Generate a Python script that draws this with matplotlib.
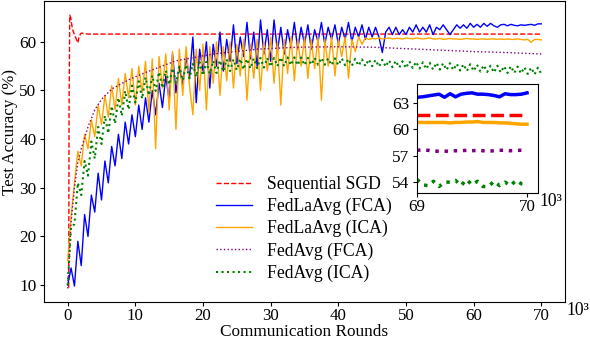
import numpy as np
import matplotlib
matplotlib.use("Agg")
import matplotlib.pyplot as plt

plt.rcParams["font.family"] = ["Liberation Serif", "DejaVu Serif"]
plt.rcParams["font.size"] = 12.7
plt.rcParams["xtick.labelsize"] = 12.2
plt.rcParams["ytick.labelsize"] = 12.4
plt.rcParams["xtick.major.size"] = 3
plt.rcParams["ytick.major.size"] = 3
plt.rcParams["xtick.major.pad"] = 1.5
plt.rcParams["ytick.major.pad"] = 2.5

# rounds in thousands
rounds = np.arange(0, 70.01, 0.5)

fedla_fca = [10.0, 13.5, 9.8, 19.0, 14.0, 24.5, 20.0, 28.5, 25.0, 33.0,
             27.5, 35.5, 31.0, 38.5, 34.5, 41.0, 36.0, 43.5, 39.0, 45.0,
             40.5, 47.0, 42.0, 48.5, 43.5, 50.0, 45.0, 51.5, 46.5, 53.0,
             48.0, 57.5, 49.5, 55.0, 51.0, 57.0, 52.5, 61.0, 47.5, 58.5,
             54.0, 60.0, 50.5, 59.5, 55.0, 62.0, 54.0, 60.5, 56.0, 63.5,
             55.5, 61.0, 57.0, 64.0, 56.5, 62.0, 55.0, 64.5, 57.5, 62.5,
             56.0, 64.5, 58.0, 63.0, 57.5, 62.5, 59.0, 64.0, 58.5, 63.0,
             59.5, 63.5, 58.5, 62.5, 60.0, 64.0, 59.5, 63.0, 60.5, 63.5,
             59.5, 63.0, 60.5, 64.0, 60.0, 63.0, 61.0, 63.5, 60.5, 63.0,
             61.0, 63.0, 61.0, 57.8, 62.0, 63.0, 61.5, 63.0, 61.5, 62.5,
             61.5, 63.0, 62.0, 63.5, 62.0, 63.0, 62.0, 63.5, 61.5, 63.0,
             62.5, 63.5, 62.5, 61.5, 62.5, 63.5, 62.8, 63.5, 62.8, 63.8,
             63.0, 63.6, 63.0, 63.8, 63.2, 63.8, 63.3, 63.0, 63.5, 63.6,
             63.3, 63.6, 63.4, 63.3, 63.5, 63.4, 63.5, 63.6, 63.4, 63.7,
             63.7]

fedla_ica = [15.0, 24.0, 31.0, 37.5, 34.5, 41.0, 38.0, 44.0, 40.5, 47.0,
             43.0, 49.0, 44.5, 51.0, 46.0, 52.5, 47.0, 53.5, 48.5, 54.5,
             47.0, 55.0, 49.5, 56.0, 45.5, 56.5, 38.0, 57.0, 50.5, 57.5,
             46.0, 58.0, 42.0, 58.5, 49.0, 59.0, 51.0, 45.0, 58.5, 50.0,
             59.5, 46.0, 59.0, 51.5, 60.0, 49.0, 59.0, 52.0, 60.0, 50.5,
             59.5, 53.0, 60.5, 48.0, 59.5, 52.5, 60.5, 50.0, 60.0, 54.0,
             61.0, 51.5, 60.0, 47.0, 60.5, 53.5, 61.0, 52.0, 60.5, 55.0,
             61.0, 52.5, 60.5, 54.5, 61.0, 48.0, 60.5, 55.0, 61.0, 53.0,
             60.5, 57.0, 61.0, 52.5, 60.5, 58.0, 61.0, 59.5, 60.8, 60.5,
             60.7, 60.6, 60.8, 60.6, 60.7, 60.8, 60.6, 60.7, 60.7, 60.6,
             60.8, 60.7, 60.6, 60.8, 60.7, 60.6, 60.7, 60.8, 60.6, 60.6,
             60.7, 60.5, 60.6, 60.7, 60.6, 60.6, 60.5, 60.6, 60.7, 60.6,
             60.6, 60.5, 60.6, 60.6, 60.5, 60.6, 60.6, 60.5, 60.6, 60.5,
             60.6, 60.5, 60.5, 60.6, 60.5, 60.4, 60.5, 59.9, 60.5, 60.5,
             60.4]

fedavg_ica = [10.0, 22.0, 22.5, 31.0, 28.5, 35.5, 32.5, 39.5, 36.0, 42.5,
              39.0, 44.8, 41.2, 46.8, 43.2, 48.5, 44.8, 49.9, 46.1, 51.0,
              47.5, 51.9, 48.3, 52.7, 49.0, 53.1, 49.9, 53.8, 50.5, 54.1,
              51.2, 54.6, 51.6, 54.9, 52.1, 55.3, 52.5, 55.5, 52.8, 55.8,
              53.1, 55.9, 53.4, 56.1, 53.6, 56.2, 53.9, 56.4, 54.0, 56.4,
              54.2, 56.5, 54.3, 56.5, 54.5, 56.6, 54.6, 56.7, 54.7, 56.7,
              54.9, 56.7, 55.0, 56.8, 55.0, 56.8, 55.2, 56.8, 55.2, 56.8,
              55.2, 56.7, 55.3, 56.7, 55.3, 56.7, 55.3, 56.6, 55.2, 56.6,
              55.2, 56.6, 55.2, 56.5, 55.1, 56.5, 55.1, 56.4, 55.0, 56.4,
              55.0, 56.3, 54.9, 56.3, 54.9, 56.2, 54.8, 56.1, 54.7, 56.0,
              54.6, 56.0, 54.6, 55.9, 54.5, 55.8, 54.4, 55.7, 54.3, 55.7,
              54.3, 55.6, 54.2, 55.6, 54.2, 55.5, 54.1, 55.4, 54.0, 55.4,
              54.0, 55.3, 53.9, 55.2, 53.8, 55.1, 53.7, 55.1, 53.7, 55.0,
              53.6, 55.0, 53.6, 54.9, 53.5, 54.8, 53.4, 54.7, 53.3, 54.7,
              53.4]

fedavg_fca_rounds = [0, 0.5, 1, 1.5, 2, 3, 4, 5, 6.5, 9, 11.5, 16, 21.5, 28,
                     34, 40, 45, 50, 55, 60, 65, 70]
fedavg_fca = [9.3, 23.0, 30.0, 35.2, 38.0, 42.5, 46.0, 48.2, 50.3, 52.2, 53.7,
              56.1, 57.5, 58.5, 58.9, 59.0, 58.9, 58.6, 58.3, 58.0, 57.8, 57.5]

sgd_rounds = [0.15, 0.2, 0.3, 0.45, 0.6, 0.8, 1.0, 1.2, 1.5, 1.7, 2.0, 2.5,
              3, 10, 20, 30, 40, 50, 60, 70]
sgd = [9.5, 45.0, 65.5, 65.0, 63.5, 62.2, 61.5, 60.8, 59.8, 61.2, 61.8, 61.7,
       61.6, 61.6, 61.6, 61.6, 61.6, 61.6, 61.6, 61.6]

# zoomed readings for the inset (69k-70k)
inset_rounds = np.arange(69.0, 70.001, 0.05)
inset_fedla_fca = [63.6, 63.65, 63.75, 63.85, 63.95, 63.6, 64.0, 63.65, 63.95,
                   64.05, 64.1, 63.95, 63.95, 63.9, 63.8, 63.65, 64.0, 63.9,
                   63.9, 63.95, 64.1]
inset_sgd = [61.65] * 21
inset_fedla_ica = [60.75, 60.75, 60.75, 60.75, 60.75, 60.75, 60.7, 60.75,
                   60.75, 60.8, 60.8, 60.85, 60.75, 60.75, 60.75, 60.7, 60.7,
                   60.65, 60.6, 60.55, 60.55]
inset_fedavg_fca = [57.6, 57.65, 57.6, 57.5, 57.5, 57.5, 57.5, 57.55, 57.55,
                    57.6, 57.55, 57.6, 57.55, 57.5, 57.55, 57.6, 57.6, 57.55,
                    57.6, 57.6, 57.65]
inset_fedavg_ica = [54.3, 53.7, 53.6, 54.1, 53.5, 54.0, 54.0, 54.2, 53.6, 54.3,
                    53.7, 54.1, 53.5, 53.5, 54.1, 53.6, 54.0, 53.6, 54.2, 53.8,
                    53.7]

fig = plt.figure(figsize=(5.9, 3.46), dpi=100)
ax = fig.add_axes([0.0746, 0.127, 0.883, 0.8687])

ax.plot(sgd_rounds, sgd, "--", color="red", lw=1, label="Sequential SGD")
ax.plot(rounds, fedla_fca, "-", color="blue", lw=1, label="FedLaAvg (FCA)")
ax.plot(rounds, fedla_ica, "-", color="orange", lw=1, label="FedLaAvg (ICA)")
ax.plot(fedavg_fca_rounds, fedavg_fca, ":", color="purple", lw=1,
        label="FedAvg (FCA)")
ax.plot(rounds, fedavg_ica, ":", color="green", lw=1.5, label="FedAvg (ICA)")

ax.set_xlim(-3.5, 73.5)
ax.set_ylim(6.5, 68.3)
ax.set_xticks(range(0, 71, 10))
ax.set_yticks(range(10, 61, 10))
ax.set_xlabel("Communication Rounds", fontsize=12.4, labelpad=0)
ax.set_ylabel("Test Accuracy (%)", fontsize=12.2)
ax.yaxis.set_label_coords(-0.049, 0.567)
ax.text(1.003, 0.0, "10\u00b3", transform=ax.transAxes, ha="left", va="top")
ax.legend(loc="upper left", bbox_to_anchor=(0.317, 0.443), frameon=False,
          handlelength=2.05, handletextpad=0.85, labelspacing=0.28,
          borderaxespad=0)

ins = fig.add_axes([0.7068, 0.443, 0.2051, 0.3142])
ins.plot(inset_rounds, inset_fedla_fca, "-", color="blue", lw=2.5)
ins.plot(inset_rounds, inset_sgd, "--", color="red", lw=2.5)
ins.plot(inset_rounds, inset_fedla_ica, "-", color="orange", lw=2.5)
ins.plot(inset_rounds, inset_fedavg_fca, ":", color="purple", lw=2.5)
ins.plot(inset_rounds, inset_fedavg_ica, ":", color="green", lw=2.5)
ins.set_xlim(69, 70.1)
ins.set_ylim(52.8, 65.1)
ins.set_xticks([69, 70])
ins.set_yticks([54, 57, 60, 63])
ins.text(1.01, 0.0, "10\u00b3", transform=ins.transAxes, ha="left", va="top")

fig.savefig("out.png", dpi=100)
